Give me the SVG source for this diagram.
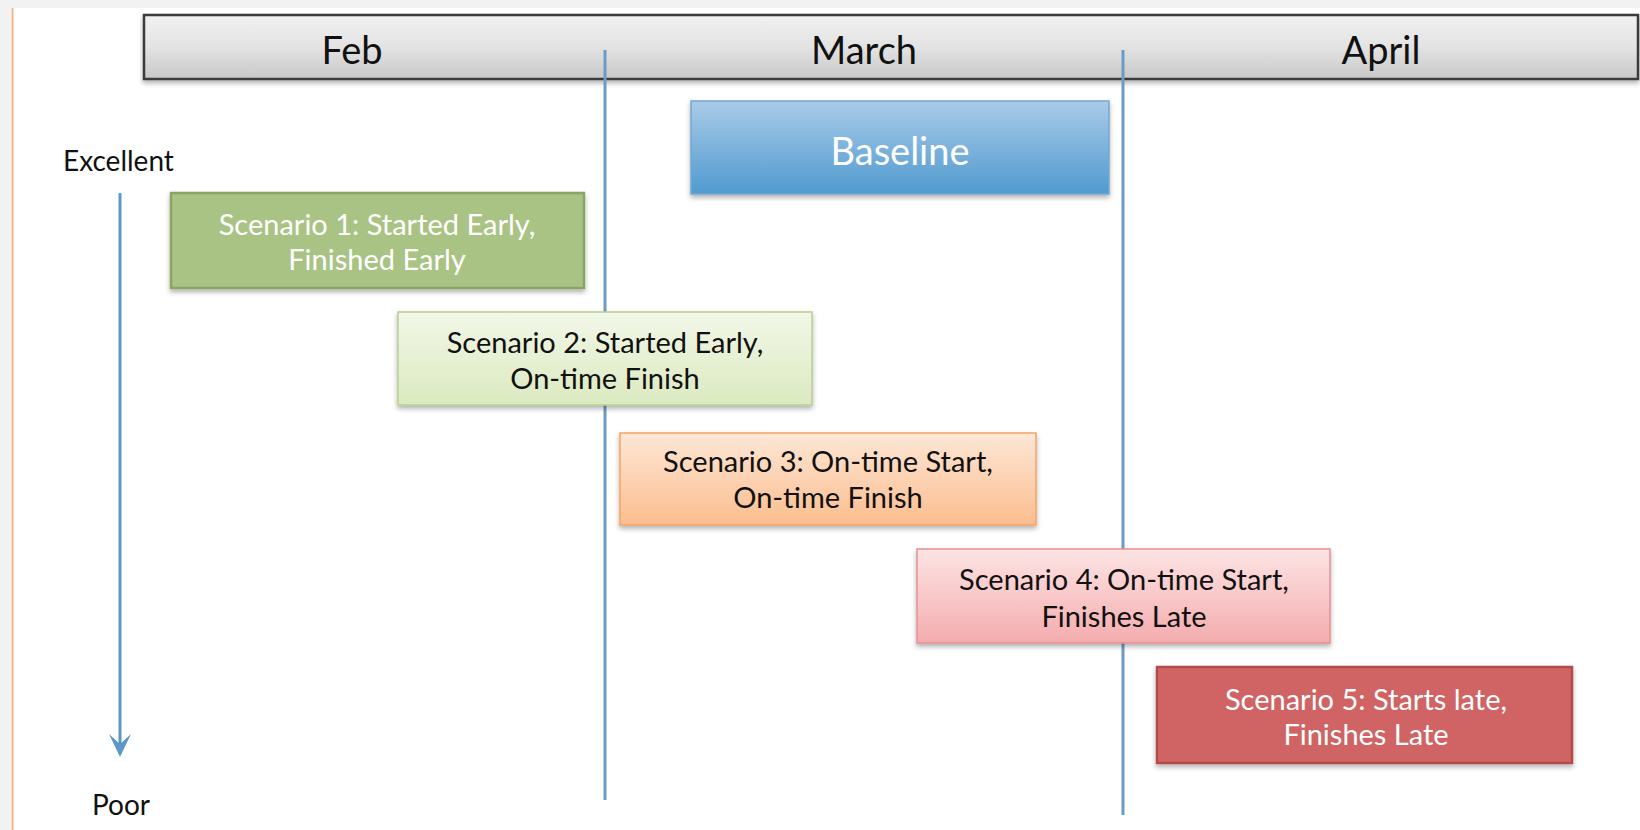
<svg xmlns="http://www.w3.org/2000/svg" width="1640" height="830" viewBox="0 0 1640 830">
  <defs>
    <style>
      .lbl { font-family: Lato, "Liberation Sans", sans-serif; text-anchor: middle; }
      .month { font-size: 38px; fill: #111; }
      .scen { font-size: 29px; }
      .dark { fill: #111; }
      .light { fill: #ffffff; }
      .axis { font-family: Lato, "Liberation Sans", sans-serif; font-size: 28px; fill: #111; }
      .divider { stroke: #6b9cc6; stroke-width: 3; fill: none; }
    </style>
    <linearGradient id="gHeader" x1="0" y1="0" x2="0" y2="1">
      <stop offset="0" stop-color="#f1f1f1"/>
      <stop offset="0.5" stop-color="#e3e3e3"/>
      <stop offset="1" stop-color="#c8c8c8"/>
    </linearGradient>
    <linearGradient id="gBase" x1="0" y1="0" x2="0" y2="1">
      <stop offset="0" stop-color="#a9cbe8"/>
      <stop offset="1" stop-color="#509acf"/>
    </linearGradient>
    <linearGradient id="gS2" x1="0" y1="0" x2="0" y2="1">
      <stop offset="0" stop-color="#f2f7e8"/>
      <stop offset="1" stop-color="#dbeac0"/>
    </linearGradient>
    <linearGradient id="gS3" x1="0" y1="0" x2="0" y2="1">
      <stop offset="0" stop-color="#fde7d6"/>
      <stop offset="1" stop-color="#fbbd8e"/>
    </linearGradient>
    <linearGradient id="gS4" x1="0" y1="0" x2="0" y2="1">
      <stop offset="0" stop-color="#fde4e4"/>
      <stop offset="1" stop-color="#f4acae"/>
    </linearGradient>
    <filter id="shadow" x="-5%" y="-10%" width="110%" height="130%">
      <feDropShadow dx="0" dy="3" stdDeviation="2.5" flood-color="#000" flood-opacity="0.3"/>
    </filter>
    <marker id="chev" markerWidth="26" markerHeight="24" refX="20" refY="12" orient="auto" markerUnits="userSpaceOnUse" viewBox="0 0 26 24">
      <path d="M23 12 L0 1 L10 12 L0 23 Z" fill="#5f97c6"/>
    </marker>
  </defs>

  <rect x="0" y="0" width="1640" height="830" fill="#ffffff"/>
  <rect x="0" y="0" width="1640" height="8" fill="#f2f2f2"/>
  <rect x="0" y="0" width="11" height="830" fill="#f2f2f2"/>
  <line x1="12.5" y1="8" x2="12.5" y2="830" stroke="#f6b382" stroke-width="2"/>

  <g id="header">
    <rect x="144" y="15" width="1494" height="64" fill="url(#gHeader)" stroke="#3a3a3a" stroke-width="2.5" filter="url(#shadow)"/>
    <text class="lbl month" x="352" y="64">Feb</text>
    <text class="lbl month" x="864" y="64">March</text>
    <text class="lbl month" x="1381" y="64">April</text>
  </g>

  <g id="dividers">
    <line class="divider" x1="605" y1="50" x2="605" y2="800"/>
    <line class="divider" x1="1123" y1="50" x2="1123" y2="815"/>
  </g>

  <g id="axis-labels">
    <text id="excellent" class="axis" x="63" y="171">Excellent</text>
    <text id="poor" class="axis" x="92" y="815">Poor</text>
  </g>

  <g id="connectors">
    <line x1="120" y1="193" x2="120" y2="754" stroke="#5f97c6" stroke-width="3" marker-end="url(#chev)"/>
  </g>

  <g id="baseline">
    <rect x="691" y="101" width="418" height="93" fill="url(#gBase)" stroke="#73a7d3" stroke-width="1.5" filter="url(#shadow)"/>
    <text class="lbl light" x="900" y="165" font-size="38">Baseline</text>
  </g>

  <g id="scenario1">
    <rect x="171" y="193" width="413" height="95" fill="#a9c384" stroke="#88a562" stroke-width="2.5" filter="url(#shadow)"/>
    <text class="lbl scen light" x="377" y="235">Scenario 1: Started Early,</text>
    <text class="lbl scen light" x="377" y="270">Finished Early</text>
  </g>

  <g id="scenario2">
    <rect x="398" y="312" width="414" height="93" fill="url(#gS2)" stroke="#b6cf90" stroke-width="1.5" filter="url(#shadow)"/>
    <text class="lbl scen dark" x="605" y="353">Scenario 2: Started Early,</text>
    <text class="lbl scen dark" x="605" y="389">On-time Finish</text>
  </g>

  <g id="scenario3">
    <rect x="620" y="433" width="416" height="92" fill="url(#gS3)" stroke="#f5a462" stroke-width="1.5" filter="url(#shadow)"/>
    <text class="lbl scen dark" x="828" y="472">Scenario 3: On-time Start,</text>
    <text class="lbl scen dark" x="828" y="508">On-time Finish</text>
  </g>

  <g id="scenario4">
    <rect x="917" y="549" width="413" height="94" fill="url(#gS4)" stroke="#e78f92" stroke-width="1.5" filter="url(#shadow)"/>
    <text class="lbl scen dark" x="1124" y="590">Scenario 4: On-time Start,</text>
    <text class="lbl scen dark" x="1124" y="627">Finishes Late</text>
  </g>

  <g id="scenario5">
    <rect x="1157" y="667" width="415" height="96" fill="#d06464" stroke="#b34b4b" stroke-width="2.5" filter="url(#shadow)"/>
    <text class="lbl scen light" x="1366" y="710">Scenario 5: Starts late,</text>
    <text class="lbl scen light" x="1366" y="745">Finishes Late</text>
  </g>
</svg>
